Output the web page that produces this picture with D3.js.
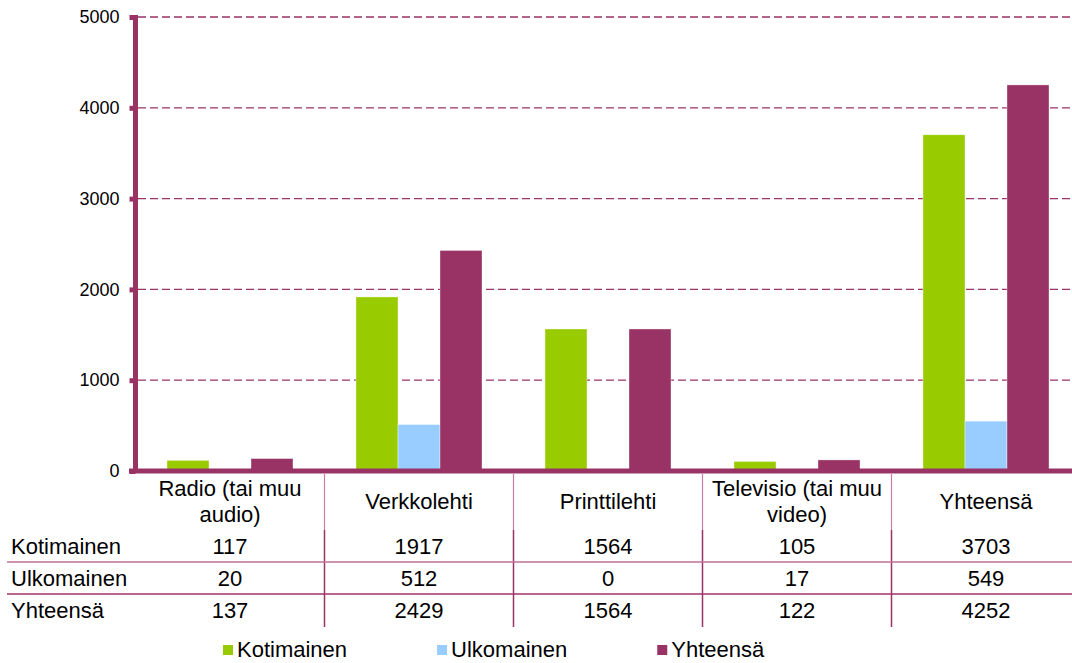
<!DOCTYPE html>
<html>
<head>
<meta charset="utf-8">
<script src="https://cdn.jsdelivr.net/npm/d3@7"></script>
<style>
  html, body { margin: 0; padding: 0; background: #fff; overflow: hidden; }
  text { font-family: "Liberation Sans", Arial, sans-serif; fill: #000; }
</style>
</head>
<body>
<svg id="chart" width="1072" height="663"></svg>
<script>
const categories = ["Radio (tai muu audio)", "Verkkolehti", "Printtilehti", "Televisio (tai muu video)", "Yhteensä"];
const seriesNames = ["Kotimainen", "Ulkomainen", "Yhteensä"];
const kotimainen = [117, 1917, 1564, 105, 3703];
const ulkomainen = [20, 512, 0, 17, 549];
const yhteensa = [137, 2429, 1564, 122, 4252];
const yTicks = [0, 1000, 2000, 3000, 4000, 5000];
const colors = ["#99CC00", "#99CCFF", "#993366"];

const seriesValues = [kotimainen, ulkomainen, yhteensa];

const svg = d3.select("#chart");
const W = 1072, H = 663;
const axisColor = "#993366";

const x0 = d3.scaleBand().domain(categories).range([135.5, 1080.5]).paddingInner(0).paddingOuter(0);
const x1 = d3.scaleBand().domain(seriesNames).range([0, x0.bandwidth()]).paddingInner(0).paddingOuter(0.75);
const y = d3.scaleLinear().domain([0, 5000]).range([471, 17]);

// gridlines
svg.append("g").selectAll("line").data(yTicks.filter(d => d > 0)).join("line")
  .attr("x1", 138).attr("x2", 1070)
  .attr("y1", d => y(d)).attr("y2", d => y(d))
  .attr("stroke", axisColor).attr("stroke-width", 1.3)
  .attr("stroke-dasharray", "8,4");

// bars
const groups = svg.append("g").selectAll("g").data(categories).join("g")
  .attr("transform", d => `translate(${x0(d)},0)`);
groups.selectAll("rect").data((c, i) => seriesNames.map((s, j) => ({s, v: seriesValues[j][i], j})))
  .join("rect")
  .attr("x", d => x1(d.s))
  .attr("width", x1.bandwidth())
  .attr("y", d => y(d.v))
  .attr("height", d => y(0) - y(d.v))
  .attr("fill", d => colors[d.j])
  .attr("stroke", "#fff").attr("stroke-width", 0.6).attr("stroke-opacity", 0.6);

// y axis
const yAxis = d3.axisLeft(y).tickValues(yTicks).tickSize(6).tickPadding(10).tickFormat(d3.format("d"));
const gy = svg.append("g").attr("transform", "translate(135.5,0)").call(yAxis);
gy.select(".domain").attr("stroke", axisColor).attr("stroke-width", 5).attr("d", `M0,${y(5000)-2}V${y(0)}`);
gy.selectAll(".tick line").attr("stroke", axisColor).attr("stroke-width", 5);
gy.selectAll(".tick text").attr("font-size", 18).attr("font-family", "Liberation Sans, Arial, sans-serif").attr("fill", "#000");

// x axis line
svg.append("line").attr("x1", 129).attr("x2", 1080).attr("y1", y(0)).attr("y2", y(0))
  .attr("stroke", axisColor).attr("stroke-width", 5);

// data table
const tableTop = 474, tableBottom = 627;
const rowCenters = [546, 578, 610];
const rowLines = [562, 594];
const fs = 22;

// vertical separators
const seps = categories.slice(1).map(c => x0(c));
svg.append("g").selectAll("line").data(seps).join("line")
  .attr("x1", d => d).attr("x2", d => d).attr("y1", tableTop).attr("y2", 530)
  .attr("stroke", "#C77FA8").attr("stroke-width", 1.2);
svg.append("g").selectAll("line").data(seps).join("line")
  .attr("x1", d => d).attr("x2", d => d).attr("y1", 530).attr("y2", tableBottom)
  .attr("stroke", axisColor).attr("stroke-width", 1.5);

// horizontal row lines
svg.append("g").selectAll("line").data(rowLines).join("line")
  .attr("x1", 7).attr("x2", W).attr("y1", d => d).attr("y2", d => d)
  .attr("stroke", (d, i) => i === 0 ? "#C0709A" : "#A0336A").attr("stroke-width", 1.5);

// category labels with wrapping
function wrapLines(text, maxW) {
  const words = text.split(" ");
  const tmp = svg.append("text").attr("font-size", fs);
  const lines = [];
  let cur = "";
  for (const w of words) {
    const test = cur ? cur + " " + w : w;
    tmp.text(test);
    if (tmp.node().getComputedTextLength() > maxW && cur) {
      lines.push(cur); cur = w;
    } else cur = test;
  }
  if (cur) lines.push(cur);
  tmp.remove();
  return lines;
}
const headerCenter = 501, lineH = 26;
categories.forEach(c => {
  const lines = wrapLines(c, x0.bandwidth() - 8);
  const cx = x0(c) + x0.bandwidth() / 2;
  const t = svg.append("text").attr("text-anchor", "middle").attr("font-size", fs);
  lines.forEach((l, i) => {
    t.append("tspan").attr("x", cx)
      .attr("y", headerCenter + (i - (lines.length - 1) / 2) * lineH)
      .attr("dy", "0.35em").text(l);
  });
});

// row labels and values
seriesNames.forEach((s, j) => {
  svg.append("text").attr("x", 11).attr("y", rowCenters[j]).attr("dy", "0.35em")
    .attr("font-size", fs).text(s);
  categories.forEach((c, i) => {
    svg.append("text").attr("x", x0(c) + x0.bandwidth() / 2).attr("y", rowCenters[j]).attr("dy", "0.35em")
      .attr("text-anchor", "middle").attr("font-size", fs).text(seriesValues[j][i]);
  });
});

// legend
const legendY = 649;
let lx = 223;
seriesNames.forEach((s, j) => {
  svg.append("rect").attr("x", lx).attr("y", legendY - 4).attr("width", 10).attr("height", 10).attr("fill", colors[j]);
  const t = svg.append("text").attr("x", lx + 14).attr("y", legendY).attr("dy", "0.35em")
    .attr("font-size", fs).text(s);
  lx += 14 + t.node().getComputedTextLength() + 90;
});
</script>
</body>
</html>
